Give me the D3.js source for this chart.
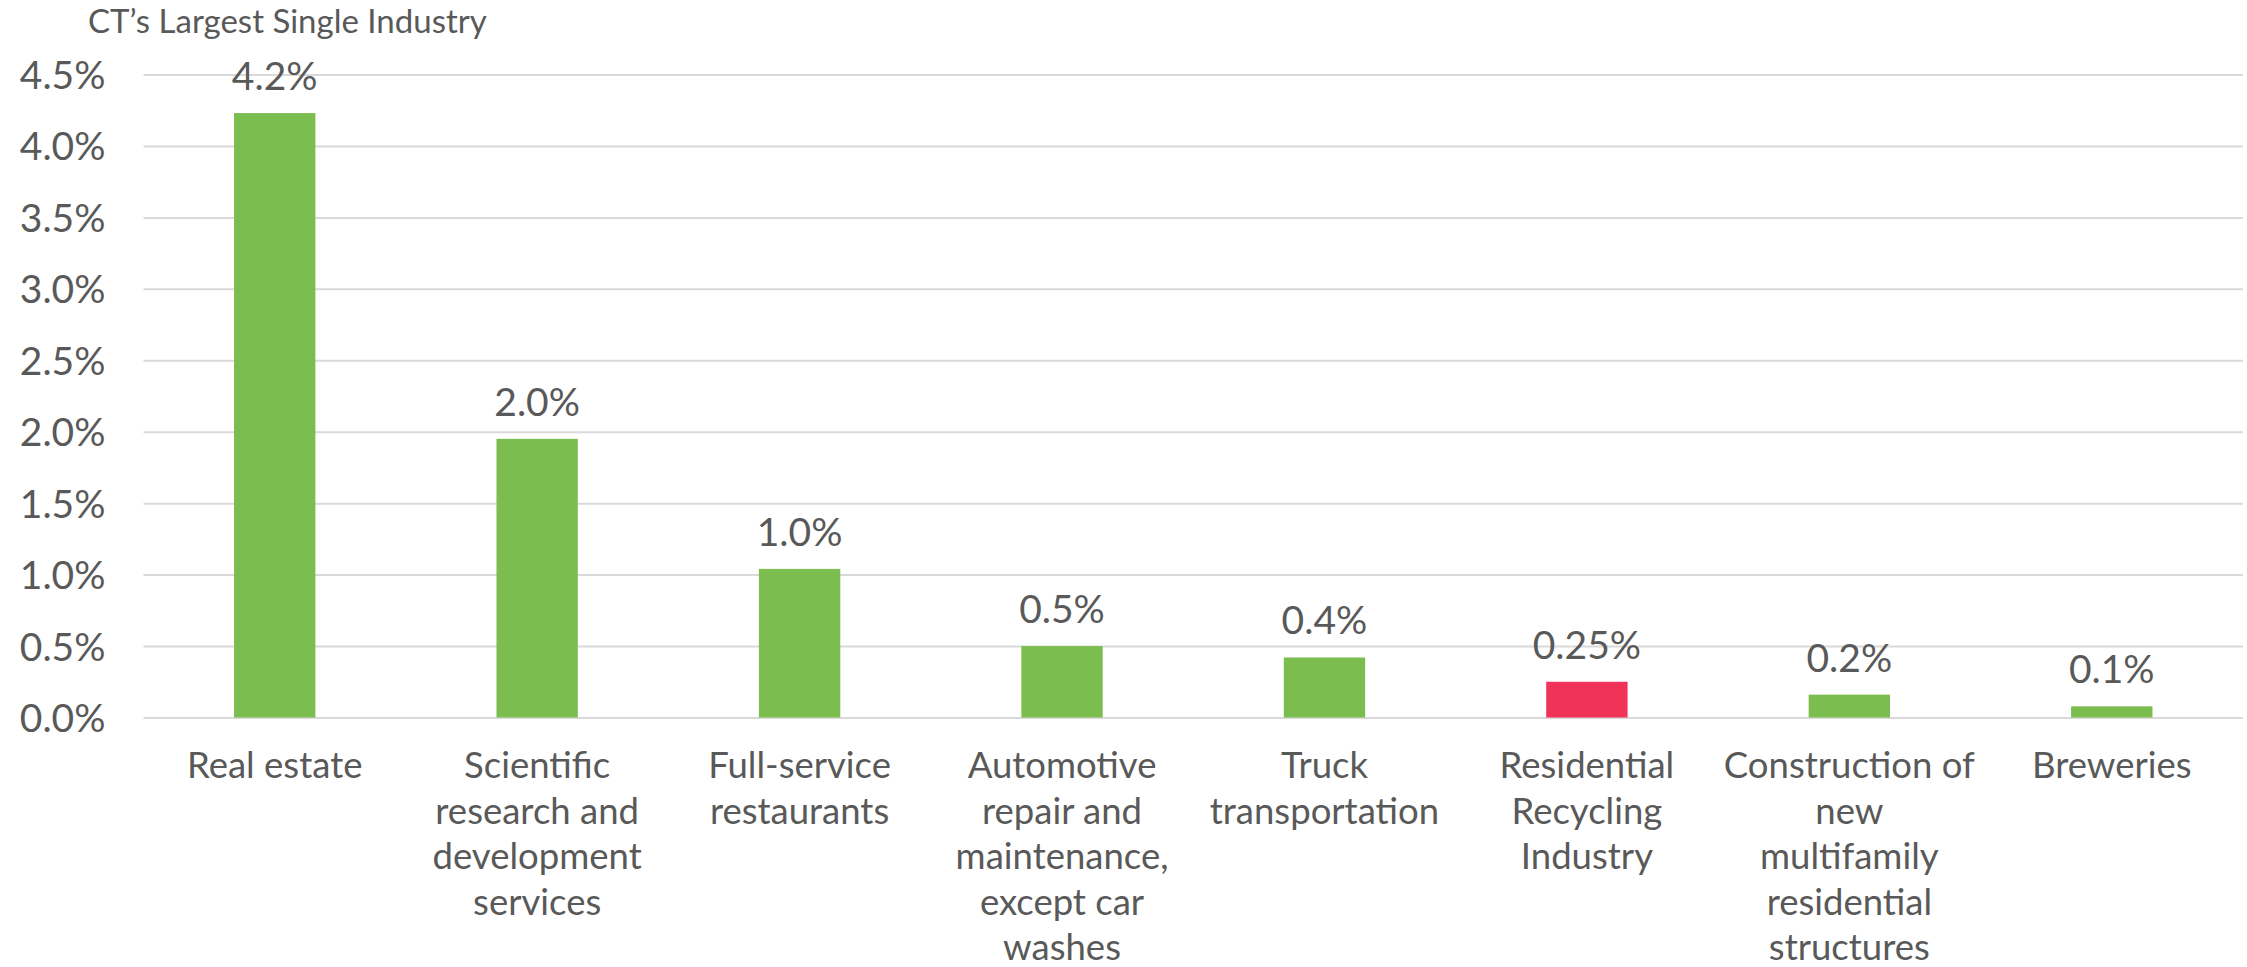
<!DOCTYPE html>
<html>
<head>
<meta charset="utf-8">
<script src="https://cdn.jsdelivr.net/npm/d3@7"></script>
<style>
  html, body { margin: 0; padding: 0; background: #ffffff; }
  svg { display: block; }
</style>
</head>
<body>
<svg id="chart" width="2247" height="967"></svg>
<script>
// ---- data ----
const categories = [
  ["Real estate"],
  ["Scientific", "research and", "development", "services"],
  ["Full-service", "restaurants"],
  ["Automotive", "repair and", "maintenance,", "except car", "washes"],
  ["Truck", "transportation"],
  ["Residential", "Recycling", "Industry"],
  ["Construction of", "new", "multifamily", "residential", "structures"],
  ["Breweries"]
];
const values = [4.23, 1.95, 1.04, 0.50, 0.42, 0.25, 0.16, 0.078];
const valueLabels = ["4.2%", "2.0%", "1.0%", "0.5%", "0.4%", "0.25%", "0.2%", "0.1%"];
const highlight = [false, false, false, false, false, true, false, false];
const yTicks = [0, 0.5, 1.0, 1.5, 2.0, 2.5, 3.0, 3.5, 4.0, 4.5];
const title = "CT\u2019s Largest Single Industry";

// ---- layout ----
const W = 2247, H = 967;
const plotLeft = 143.5, plotRight = 2243;
const yZero = 717.5, yTop = 74.5;
const font = "Lato, 'Open Sans', sans-serif";
const textColor = "#595959";

const svg = d3.select("#chart");
svg.append("rect").attr("width", W).attr("height", H).attr("fill", "#ffffff");

const x = d3.scaleBand()
  .domain(d3.range(categories.length))
  .range([plotLeft, plotRight])
  .paddingInner(0.69)
  .paddingOuter(0.345);

const y = d3.scaleLinear().domain([0, 4.5]).range([yZero, yTop]);

// gridlines + y axis labels
const yAxis = d3.axisLeft(y)
  .tickValues(yTicks)
  .tickFormat(d => d.toFixed(1) + "%")
  .tickSize(-(plotRight - plotLeft))
  .tickPadding(38);

const gy = svg.append("g")
  .attr("transform", `translate(${plotLeft},0)`)
  .call(yAxis);
gy.select(".domain").remove();
gy.selectAll(".tick line").attr("stroke", "#D9D9D9").attr("stroke-width", 2);
gy.selectAll(".tick text")
  .attr("fill", textColor)
  .attr("font-family", font)
  .attr("font-size", 39)
  .attr("dy", "0.36em");

// bars
svg.append("g").selectAll("rect")
  .data(values)
  .join("rect")
  .attr("x", (d, i) => x(i))
  .attr("width", x.bandwidth())
  .attr("y", d => y(d))
  .attr("height", d => y(0) - y(d))
  .attr("fill", (d, i) => highlight[i] ? "#EF3359" : "#7CBD4F");

// value labels
svg.append("g").selectAll("text")
  .data(values)
  .join("text")
  .attr("x", (d, i) => x(i) + x.bandwidth() / 2)
  .attr("y", d => y(d) - 23)
  .attr("text-anchor", "middle")
  .attr("fill", textColor)
  .attr("font-family", font)
  .attr("font-size", 39)
  .text((d, i) => valueLabels[i]);

// category labels
const cat = svg.append("g").selectAll("text")
  .data(categories)
  .join("text")
  .attr("x", (d, i) => x(i) + x.bandwidth() / 2)
  .attr("y", 778)
  .attr("text-anchor", "middle")
  .attr("fill", textColor)
  .attr("font-family", font)
  .attr("font-size", 36.5);
cat.each(function(lines, i) {
  const t = d3.select(this);
  lines.forEach((ln, j) => {
    t.append("tspan")
      .attr("x", x(i) + x.bandwidth() / 2)
      .attr("dy", j === 0 ? 0 : 45.5)
      .text(ln);
  });
});

// title
svg.append("text")
  .attr("x", 88)
  .attr("y", 33)
  .attr("fill", textColor)
  .attr("font-family", font)
  .attr("font-size", 33)
  .text(title);
</script>
</body>
</html>
